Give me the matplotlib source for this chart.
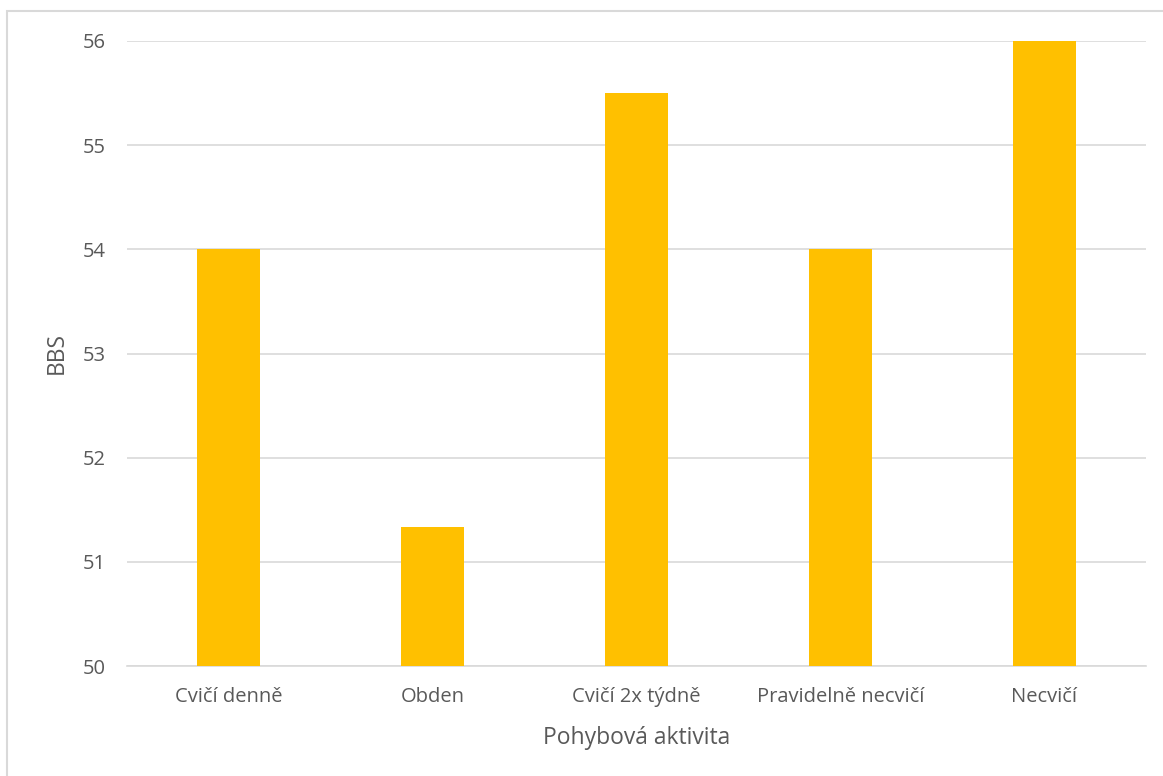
import matplotlib
matplotlib.use('Agg')
import matplotlib.pyplot as plt
from matplotlib.patches import Rectangle

plt.rcParams['font.family'] = ['Open Sans', 'DejaVu Sans']

# Data
categories = ['Cvičí denně', 'Obden', 'Cvičí 2x týdně', 'Pravidelně necvičí', 'Necvičí']
bbs = [54, 51.33, 55.5, 54, 56]
yticks = [50, 51, 52, 53, 54, 55, 56]

W, H = 1163, 776
fig = plt.figure(figsize=(W / 100, H / 100), dpi=100)
ax = fig.add_axes([127 / W, 1 - 666 / H, (1146 - 127) / W, (666 - 41) / H])

# Outer chart border (only left/top visible in the crop)
fig.patches.append(Rectangle((7 / W, -0.1), 1.2, 1 - 11 / H + 0.1,
                             transform=fig.transFigure, fill=False,
                             edgecolor='#D9D9D9', linewidth=1.5))

x = range(len(categories))
ax.bar(x, bbs, width=0.31, color='#FFC000', zorder=3)

ax.set_ylim(50, 56)
ax.set_xlim(-0.5, len(categories) - 0.5)
ax.set_yticks(yticks)
ax.set_xticks(list(x))
ax.set_xticklabels(categories)

ax.grid(axis='y', color='#D9D9D9', linewidth=1.2, zorder=0)
for s in ['top', 'right', 'left']:
    ax.spines[s].set_visible(False)
ax.spines['bottom'].set_color('#D9D9D9')
ax.spines['bottom'].set_linewidth(1.2)
ax.tick_params(axis='both', length=0, colors='#595959', labelsize=14.5)
ax.tick_params(axis='y', pad=15)
ax.tick_params(axis='x', pad=15)

ax.set_xlabel('Pohybová aktivita', fontsize=16.5, color='#595959', labelpad=14)
ax.set_ylabel('BBS', fontsize=16.5, color='#595959', labelpad=10)

plt.savefig('out.png', dpi=100)
plt.close()
